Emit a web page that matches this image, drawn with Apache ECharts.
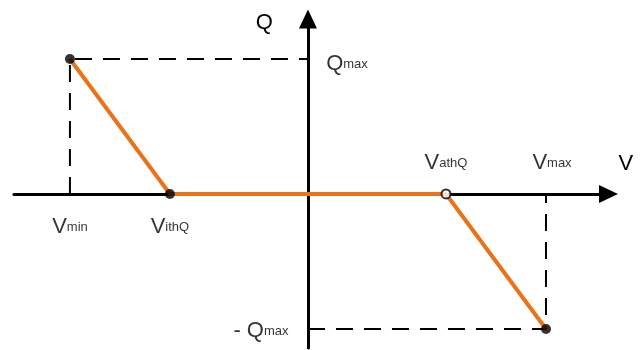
<!DOCTYPE html>
<html>
<head>
<meta charset="utf-8">
<script src="https://cdn.jsdelivr.net/npm/echarts@6/dist/echarts.min.js"></script>
<style>
  html, body { margin: 0; padding: 0; background: #fff; }
  #chart { width: 640px; height: 350px; }
</style>
</head>
<body>
<div id="chart"></div>
<script>
// breakpoints of the Q(V) droop curve
var vNames = ['V{s|min}', 'V{s|ithQ}', 'V{s|athQ}', 'V{s|max}'];
var vValues = [-1, -0.58, 0.58, 1];
var qValues = [1, 0, 0, -1];
var qMax = 1;
var qNames = ['Q{s|max}', '- Q{s|max}'];

var orange = '#E8731A';
var font = 'Liberation Sans';

var curve = vValues.map(function (v, i) { return [v, qValues[i]]; });
var dashTop = [[vValues[0], 0], [vValues[0], qMax], [0, qMax]];
var dashBottom = [[0, -qMax], [vValues[3], -qMax], [vValues[3], 0]];

var rich = {
  m: { fontSize: 22, fontFamily: font, color: '#000' },
  s: { fontSize: 13, fontFamily: font, color: '#000' }
};
function lbl(offset) {
  return {
    show: true, position: 'inside', offset: offset,
    fontSize: 22, fontFamily: font, color: '#000', rich: rich,
    formatter: function (p) { return p.data.name; }
  };
}

// label anchors: V labels below/above the axis, Q labels beside the Q axis
var vLabelOffsets = [[0, 33], [0, 33], [0, -31], [6, -31]];
var labelData = vValues.map(function (v, i) {
  return { value: [v, 0], name: vNames[i], label: lbl(vLabelOffsets[i]) };
});
labelData.push({ value: [0, qMax], name: qNames[0], label: lbl([39, 5]) });
labelData.push({ value: [0, -qMax], name: qNames[1], label: lbl([-47, 2]) });

var chart = echarts.init(document.getElementById('chart'));
chart.setOption({
  animation: false,
  grid: { left: 14, right: 31.5, top: 19, bottom: 2 },
  xAxis: {
    type: 'value', min: -1.235, max: 1.2626,
    name: 'V', nameLocation: 'end', nameGap: 10,
    nameTextStyle: { fontSize: 22, fontFamily: font, color: '#000', verticalAlign: 'bottom', padding: [0, 0, 19, 0] },
    axisLine: { onZero: true, symbol: ['none', 'triangle'], symbolSize: [18, 19], lineStyle: { color: '#000', width: 3 } },
    axisTick: { show: false }, axisLabel: { show: false }, splitLine: { show: false }
  },
  yAxis: {
    type: 'value', min: -1.141, max: 1.296,
    name: 'Q', nameLocation: 'end', nameGap: -15,
    nameTextStyle: { fontSize: 22, fontFamily: font, color: '#000', align: 'right', padding: [0, 35, 0, 0] },
    axisLine: { onZero: true, symbol: ['none', 'triangle'], symbolSize: [18, 19], lineStyle: { color: '#000', width: 3 } },
    axisTick: { show: false }, axisLabel: { show: false }, splitLine: { show: false }
  },
  series: [
    {
      type: 'line', data: dashTop, symbol: 'none', z: 1,
      lineStyle: { color: '#000', width: 2, type: [17, 11] }
    },
    {
      type: 'line', data: dashBottom, symbol: 'none', z: 1,
      lineStyle: { color: '#000', width: 2, type: [17, 11] }
    },
    {
      type: 'line', data: curve, symbol: 'none', z: 5,
      lineStyle: { color: orange, width: 4 }
    },
    {
      type: 'scatter', z: 6, symbolSize: 10,
      data: curve.map(function (p, i) {
        return i === 2
          ? { value: p, symbolSize: 9, itemStyle: { color: '#fff', borderColor: '#000', borderWidth: 2 } }
          : { value: p, itemStyle: { color: '#000' } };
      })
    },
    {
      type: 'scatter', z: 7, symbolSize: 0, silent: true,
      data: labelData
    }
  ]
});
</script>
</body>
</html>
